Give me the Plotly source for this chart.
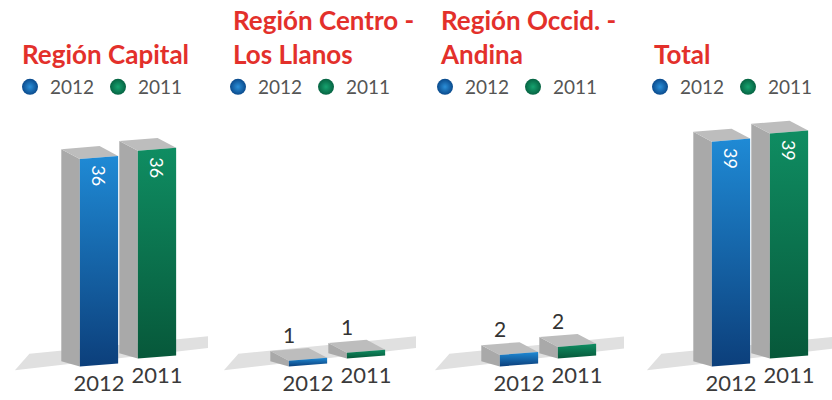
import plotly.graph_objects as go

# ---------------- data ----------------
regions = ["Región Capital", "Región Centro -<br>Los Llanos", "Región Occid. -<br>Andina", "Total"]
years = ["2012", "2011"]
values_2012 = [36, 1, 2, 39]
values_2011 = [36, 1, 2, 39]

# ---------------- style / geometry ----------------
FONT = "Lato"
RED = "#e3302b"
FRONT_SCALES = {
    "2012": [[0, "#0c3f7b"], [1, "#1f8ad5"]],
    "2011": [[0, "#07583a"], [1, "#0f8d62"]],
}
LEGEND_COLORS = {"2012": ("#2b8fd8", "#0a4a8c"), "2011": ("#16a36f", "#066342")}
SIDE = "#a9a9a9"
TOP = "#bdbdbd"
FLOOR = "#e0e0e0"

HALF = 0.33      # half width of front face (x units)
DX = 0.32        # depth offset in x
DY_BOT = 0.9     # depth offset in y at bottom
DY_TOP = 1.7     # depth offset in y at top
STEP = 1.4       # base rise between bar positions (perspective)
EDGE = 0.8       # slope of face edges
FLOOR_SLOPE = 1.05

W, H = 832, 400
PPU = 58
PANEL_W = 208
offsets = [99, 100, 103, 107]          # px of 2012 bar center inside each panel
title_px = [20, 231, 438, 652]
legend_px = [10, 218, 425, 640]
Y_RANGE = [-6.07, 63.3]

fig = go.Figure()


def base_at(c, x):
    return STEP * c + EDGE * (x - c)


def poly(xa, xs, ys, **kw):
    fig.add_trace(go.Scatter(x=xs, y=ys, mode="lines", fill="toself", line=dict(width=0),
                             xaxis=xa, yaxis="y", showlegend=False, hoverinfo="skip", **kw))


annotations = []

for i, region in enumerate(regions):
    xa = "x" if i == 0 else f"x{i+1}"
    xkey = "xaxis" if i == 0 else f"xaxis{i+1}"
    lkey = "legend" if i == 0 else f"legend{i+1}"
    fig.layout[xkey] = dict(domain=[i * PANEL_W / W, (i + 1) * PANEL_W / W],
                            range=[-offsets[i] / PPU, (PANEL_W - offsets[i]) / PPU],
                            visible=False, fixedrange=True)

    # floor shadow band
    xl, xr, sh = -1.45, 2.0, 0.25
    poly(xa, [xl, xr, xr + sh, xl + sh, xl],
         [FLOOR_SLOPE * xl + 0.6, FLOOR_SLOPE * xr + 1.0,
          FLOOR_SLOPE * (xr + sh) + 3.0, FLOOR_SLOPE * (xl + sh) + 3.2, FLOOR_SLOPE * xl + 0.6],
         fillcolor=FLOOR)

    vals = {"2012": values_2012[i], "2011": values_2011[i]}
    # draw back bar (2011) first
    for c, yr in [(1, "2011"), (0, "2012")]:
        v = vals[yr]
        x0, x1 = c - HALF, c + HALF
        b0, b1 = base_at(c, x0), base_at(c, x1)
        t0, t1 = b0 + v, b1 + v
        # side face
        poly(xa, [x0, x0, x0 - DX, x0 - DX, x0], [b0, t0, t0 + DY_TOP, b0 + DY_BOT, b0], fillcolor=SIDE)
        # top face
        poly(xa, [x0, x1, x1 - DX, x0 - DX, x0], [t0, t1, t1 + DY_TOP, t0 + DY_TOP, t0], fillcolor=TOP)
        # front face
        poly(xa, [x0, x1, x1, x0, x0], [b0, b1, t1, t0, b0],
             fillgradient=dict(type="vertical", colorscale=FRONT_SCALES[yr]))

        bc = STEP * c
        if v > 5:
            annotations.append(dict(x=c, y=bc + v - 3.1, xref=xa, yref="y", text=str(v),
                                    textangle=90, showarrow=False,
                                    font=dict(family=FONT, size=18, color="white")))
        else:
            annotations.append(dict(x=c - 0.33, y=bc + v + 4.3, xref=xa, yref="y", text=str(v),
                                    showarrow=False,
                                    font=dict(family=FONT, size=21, color="#333333")))

    # category labels
    fig.add_trace(go.Scatter(x=[0, 1], y=[-3.5, STEP - 3.5], mode="text", text=years,
                             textfont=dict(family=FONT, size=22, color="#3a3a3a"),
                             xaxis=xa, yaxis="y", showlegend=False, hoverinfo="skip",
                             cliponaxis=False))

    # legend entries
    for yr in years:
        light, dark = LEGEND_COLORS[yr]
        fig.add_trace(go.Scatter(x=[None], y=[None], mode="markers", name=yr,
                                 marker=dict(size=17, color=dark,
                                             gradient=dict(type="radial", color=light)),
                                 xaxis=xa, yaxis="y", legend=lkey, showlegend=True))
    fig.layout[lkey] = dict(x=legend_px[i] / W, xanchor="left", y=1 - 87 / H, yanchor="middle",
                            orientation="h", bgcolor="rgba(0,0,0,0)", itemwidth=30,
                            entrywidth=43, entrywidthmode="pixels",
                            font=dict(family=FONT, size=19, color="#555555"))

    # panel title
    annotations.append(dict(x=title_px[i] / W, y=1 - 72 / H, xref="paper", yref="paper",
                            xanchor="left", yanchor="bottom", align="left", text=region,
                            showarrow=False,
                            font=dict(family=FONT, size=26, color=RED, weight=700)))

fig.update_layout(
    width=W, height=H,
    margin=dict(l=0, r=0, t=0, b=0),
    paper_bgcolor="white", plot_bgcolor="white",
    yaxis=dict(range=Y_RANGE, visible=False, fixedrange=True, domain=[0, 1]),
    annotations=annotations,
)

fig.write_html("out.html", config={"displayModeBar": False},
               post_script="document.body.style.margin='0px';")
